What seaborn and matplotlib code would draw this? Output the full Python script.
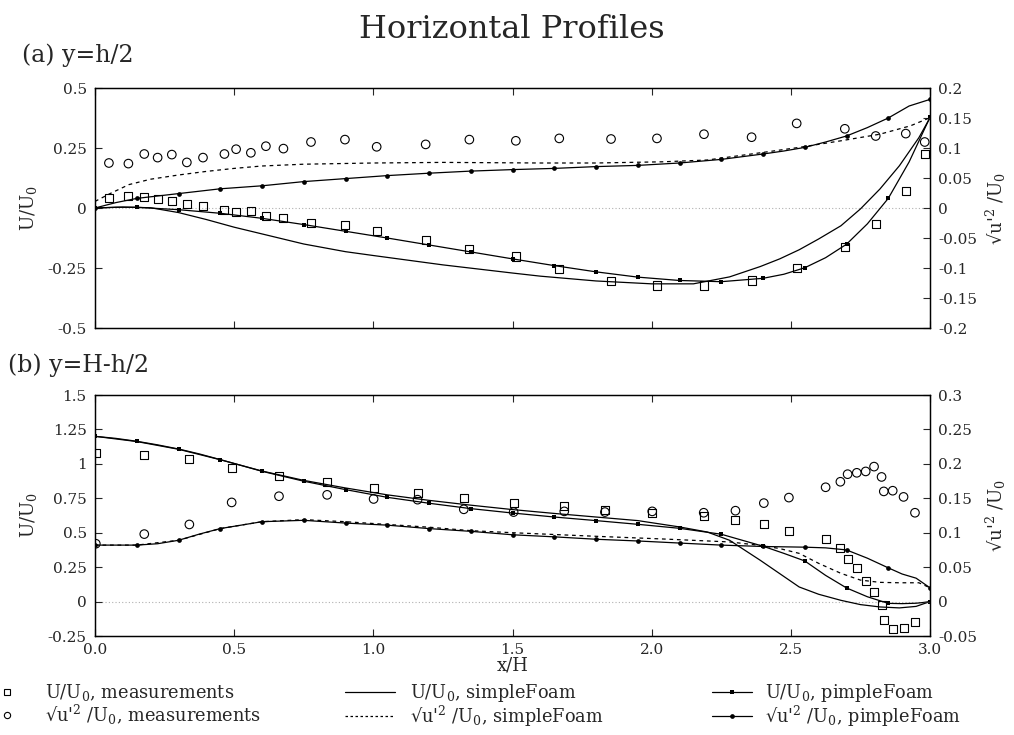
import numpy as np
import matplotlib
matplotlib.use("Agg")
import matplotlib.pyplot as plt
from matplotlib.lines import Line2D
from matplotlib.ticker import FixedLocator, FuncFormatter
import seaborn as sns

# ---------------- data ----------------
# (a) y = h/2 : measurements
x_meas_a = [0.05, 0.12, 0.177, 0.225, 0.276, 0.33, 0.388, 0.465, 0.507, 0.56,
            0.614, 0.677, 0.776, 0.898, 1.012, 1.188, 1.345, 1.512, 1.668, 1.854,
            2.019, 2.188, 2.359, 2.521, 2.694, 2.805, 2.913, 2.981]
u_meas_a = [0.042, 0.051, 0.046, 0.036, 0.030, 0.017, 0.007, -0.010, -0.018, -0.011,
            -0.032, -0.043, -0.061, -0.072, -0.094, -0.133, -0.170, -0.202, -0.253, -0.303,
            -0.323, -0.323, -0.302, -0.251, -0.164, -0.066, 0.069, 0.224]
urms_meas_a = [0.075, 0.074, 0.090, 0.084, 0.089, 0.076, 0.084, 0.090, 0.098, 0.092,
               0.103, 0.099, 0.110, 0.114, 0.102, 0.106, 0.114, 0.112, 0.116, 0.115,
               0.116, 0.123, 0.118, 0.141, 0.132, 0.120, 0.124, 0.110]

# (a) simpleFoam
x_simple_u_a = [0, 0.1, 0.2, 0.3, 0.4, 0.5, 0.6, 0.75, 0.9, 1.0, 1.25, 1.5, 1.6, 1.8,
                2.0, 2.15, 2.28, 2.39, 2.46, 2.53, 2.6, 2.68, 2.75, 2.82, 2.89, 2.96, 3.0]
u_simple_a = [0.000, 0.004, 0.001, -0.019, -0.048, -0.080, -0.108, -0.150, -0.182, -0.198,
              -0.237, -0.271, -0.284, -0.304, -0.316, -0.316, -0.287, -0.244, -0.212, -0.174,
              -0.129, -0.074, -0.004, 0.079, 0.176, 0.293, 0.376]
x_simple_urms_a = [0, 0.054, 0.122, 0.2, 0.3, 0.4, 0.5, 0.6, 0.75, 1.0, 1.25, 1.6, 1.8,
                   2.04, 2.2, 2.39, 2.53, 2.68, 2.82, 2.93, 3.0]
urms_simple_a = [0.011, 0.024, 0.039, 0.048, 0.055, 0.061, 0.066, 0.070, 0.073, 0.075,
                 0.076, 0.075, 0.075, 0.077, 0.080, 0.092, 0.101, 0.112, 0.123, 0.137, 0.1505]

# (a) pimpleFoam (symbols every 0.15)
x_pimple_a = [0, 0.075, 0.15, 0.3, 0.45, 0.6, 0.75, 0.9, 1.05, 1.2, 1.35, 1.5, 1.65, 1.8,
              1.95, 2.1, 2.25, 2.4, 2.475, 2.55, 2.625, 2.7, 2.775, 2.85, 2.925, 3.0]
u_pimple_a = [0.000, 0.003, 0.003, -0.007, -0.022, -0.043, -0.069, -0.097, -0.125, -0.154,
              -0.183, -0.212, -0.240, -0.266, -0.288, -0.302, -0.307, -0.293, -0.276, -0.249,
              -0.207, -0.151, -0.066, 0.040, 0.192, 0.378]
urms_pimple_a = [0.000, 0.009, 0.016, 0.024, 0.032, 0.037, 0.044, 0.049, 0.054, 0.058,
                 0.0615, 0.064, 0.066, 0.069, 0.071, 0.075, 0.081, 0.090, 0.095, 0.101,
                 0.110, 0.120, 0.134, 0.150, 0.170, 0.181]

# (b) y = H - h/2 : measurements
x_meas_b = [0.003, 0.177, 0.339, 0.491, 0.661, 0.834, 1.001, 1.159, 1.325, 1.504,
            1.686, 1.832, 2.002, 2.187, 2.301, 2.403, 2.493, 2.625, 2.678, 2.704,
            2.737, 2.769, 2.799, 2.826, 2.834, 2.866, 2.905, 2.946]
u_meas_b = [1.082, 1.065, 1.036, 0.973, 0.915, 0.866, 0.825, 0.789, 0.750, 0.716,
            0.692, 0.665, 0.643, 0.619, 0.593, 0.565, 0.510, 0.452, 0.390, 0.310,
            0.243, 0.148, 0.070, -0.026, -0.135, -0.202, -0.194, -0.150]
urms_meas_b = [0.084, 0.098, 0.112, 0.144, 0.153, 0.155, 0.149, 0.148, 0.134, 0.130,
               0.131, 0.130, 0.131, 0.129, 0.132, 0.143, 0.151, 0.166, 0.174, 0.185,
               0.187, 0.189, 0.196, 0.181, 0.160, 0.161, 0.152, 0.129]

# (b) simpleFoam
x_simple_u_b = [0, 0.15, 0.3, 0.45, 0.6, 0.75, 0.9, 1.05, 1.2, 1.35, 1.5, 1.65, 1.8, 1.95,
                2.1, 2.2, 2.28, 2.39, 2.46, 2.53, 2.6, 2.68, 2.75, 2.82, 2.89, 2.95, 3.0]
u_simple_b = [1.200, 1.162, 1.106, 1.030, 0.948, 0.880, 0.825, 0.775, 0.735, 0.700,
              0.668, 0.640, 0.614, 0.588, 0.542, 0.505, 0.445, 0.300, 0.203, 0.106,
              0.053, 0.009, -0.022, -0.039, -0.046, -0.035, 0.000]
x_simple_urms_b = [0, 0.15, 0.3, 0.45, 0.6, 0.75, 0.9, 1.05, 1.2, 1.35, 1.5, 1.8, 2.04,
                   2.28, 2.39, 2.46, 2.53, 2.6, 2.68, 2.75, 2.82, 2.89, 2.96, 3.0]
urms_simple_b = [0.082, 0.082, 0.089, 0.106, 0.116, 0.119, 0.116, 0.112, 0.108, 0.103,
                 0.100, 0.0948, 0.0909, 0.0866, 0.0816, 0.077, 0.070, 0.0555, 0.041,
                 0.0312, 0.0279, 0.0273, 0.0273, 0.020]

# (b) pimpleFoam (symbols every 0.15)
x_pimple_b = [0, 0.075, 0.15, 0.225, 0.3, 0.375, 0.45, 0.6, 0.75, 0.9, 1.05, 1.2, 1.35,
              1.5, 1.65, 1.8, 1.95, 2.1, 2.25, 2.4, 2.475, 2.55, 2.625, 2.7, 2.775, 2.85,
              2.9, 2.95, 2.975, 3.0]
u_pimple_b = [1.200, 1.185, 1.164, 1.138, 1.108, 1.072, 1.031, 0.946, 0.874, 0.813,
              0.757, 0.714, 0.675, 0.643, 0.614, 0.588, 0.561, 0.532, 0.489, 0.402,
              0.350, 0.295, 0.190, 0.099, 0.035, -0.013, -0.015, -0.012, -0.007, 0.000]
urms_pimple_b = [0.082, 0.082, 0.082, 0.084, 0.089, 0.098, 0.106, 0.116, 0.118, 0.114,
                 0.111, 0.106, 0.102, 0.097, 0.094, 0.0905, 0.088, 0.085, 0.082, 0.080,
                 0.0795, 0.079, 0.078, 0.075, 0.063, 0.049, 0.040, 0.034, 0.027, 0.020]

# axis settings
xticks = [0.0, 0.5, 1.0, 1.5, 2.0, 2.5, 3.0]
yticks_a = [-0.5, -0.25, 0, 0.25, 0.5]
yticks_a2 = [-0.2, -0.15, -0.1, -0.05, 0, 0.05, 0.1, 0.15, 0.2]
yticks_b = [-0.25, 0, 0.25, 0.5, 0.75, 1, 1.25, 1.5]
yticks_b2 = [-0.05, 0, 0.05, 0.1, 0.15, 0.2, 0.25, 0.3]

LBL_U = "U/U$_0$"
LBL_R = "\u221au'$^2$ /U$_0$"

# ---------------- style ----------------
sns.set_theme(style="ticks")
plt.rcParams["font.family"] = ["DejaVu Serif"]
plt.rcParams["mathtext.fontset"] = "dejavuserif"
plt.rcParams["axes.unicode_minus"] = False
plt.rcParams["axes.linewidth"] = 0.9

W, H = 1014, 735
fig = plt.figure(figsize=(W / 100, H / 100), dpi=100)

ax_a = fig.add_axes([95 / W, 1 - 328 / H, 835 / W, 240 / H])
ax_b = fig.add_axes([95 / W, 1 - 636 / H, 835 / W, 241 / H])

LW = 0.9
K = "black"


def marker_idx(xs, step=0.15):
    return [i for i, v in enumerate(xs) if abs(v / step - round(v / step)) < 1e-6]


def fmt_g(v, _pos=None):
    s = f"{v:g}"
    return "0" if s in ("-0", "0") else s


def style_axes(ax, ax2, yt, yt2, show_x):
    ax.set_xlim(0, 3)
    ax.xaxis.set_major_locator(FixedLocator(xticks))
    ax.yaxis.set_major_locator(FixedLocator(yt))
    ax.yaxis.set_major_formatter(FuncFormatter(fmt_g))
    ax2.yaxis.set_major_locator(FixedLocator(yt2))
    ax2.yaxis.set_major_formatter(FuncFormatter(fmt_g))
    ax.tick_params(axis="x", direction="in", top=True, bottom=True, length=5,
                   width=0.8, labelsize=11, pad=5, labelbottom=show_x)
    ax.tick_params(axis="y", direction="in", left=True, right=False, length=5,
                   width=0.8, labelsize=11, pad=6)
    ax2.tick_params(axis="y", direction="in", right=True, length=5, width=0.8,
                    labelsize=11, pad=6)
    if show_x:
        ax.set_xticklabels([f"{v:.1f}" for v in xticks])
    ax.axhline(0, color="#b0b0b0", lw=0.8, ls=(0, (1, 2)), zorder=0)
    ax.set_ylabel(LBL_U, fontsize=13, labelpad=6)
    ax2.set_ylabel(LBL_R, fontsize=13, labelpad=5)
    for a in (ax, ax2):
        for s in a.spines.values():
            s.set_visible(True)
            s.set_linewidth(0.9)
            s.set_color(K)
    ax.patch.set_visible(False)


def draw_panel(ax, x_meas, u_meas, urms_meas, xs_u, us, xs_r, rs, xp, up, rp,
               ylim, ylim2, yt, yt2, show_x):
    ax2 = ax.twinx()
    ax.set_ylim(*ylim)
    ax2.set_ylim(*ylim2)
    idx = marker_idx(xp)
    # velocity on the left axis
    sns.lineplot(x=xs_u, y=us, ax=ax, color=K, lw=LW, sort=False, estimator=None)
    sns.lineplot(x=xp, y=up, ax=ax, color=K, lw=LW, sort=False, estimator=None,
                 marker="s", markersize=3.4, markevery=idx, markeredgewidth=0)
    sns.scatterplot(x=x_meas, y=u_meas, ax=ax, marker="s", s=34, color="none",
                    edgecolor=K, linewidth=0.8, zorder=5)
    # fluctuation on the right axis
    sns.lineplot(x=xs_r, y=rs, ax=ax2, color=K, lw=LW, sort=False, estimator=None,
                 linestyle=(0, (3, 3)))
    sns.lineplot(x=xp, y=rp, ax=ax2, color=K, lw=LW, sort=False, estimator=None,
                 marker="o", markersize=3.4, markevery=idx, markeredgewidth=0)
    sns.scatterplot(x=x_meas, y=urms_meas, ax=ax2, marker="o", s=38, color="none",
                    edgecolor=K, linewidth=0.8, zorder=5)
    style_axes(ax, ax2, yt, yt2, show_x)
    ax.set_xlim(0, 3)
    ax2.set_xlim(0, 3)
    return ax2


draw_panel(ax_a, x_meas_a, u_meas_a, urms_meas_a, x_simple_u_a, u_simple_a,
           x_simple_urms_a, urms_simple_a, x_pimple_a, u_pimple_a, urms_pimple_a,
           (-0.5, 0.5), (-0.2, 0.2), yticks_a, yticks_a2, False)
draw_panel(ax_b, x_meas_b, u_meas_b, urms_meas_b, x_simple_u_b, u_simple_b,
           x_simple_urms_b, urms_simple_b, x_pimple_b, u_pimple_b, urms_pimple_b,
           (-0.25, 1.5), (-0.05, 0.3), yticks_b, yticks_b2, True)

ax_b.set_xlabel("x/H", fontsize=13, labelpad=0)

# titles
fig.text(512 / W, 1 - 30 / H, "Horizontal Profiles", ha="center", va="center", fontsize=23)
fig.text(22 / W, 1 - 55 / H, "(a) y=h/2", ha="left", va="center", fontsize=17)
fig.text(8 / W, 1 - 365 / H, "(b) y=H-h/2", ha="left", va="center", fontsize=17)

# legend, three columns
FS = 12.8
fs_px = FS * 100 / 72
common = dict(loc="upper left", frameon=False, fontsize=FS, borderpad=0,
              borderaxespad=0, labelspacing=-0.02, numpoints=1)

h_meas = [Line2D([], [], ls="none", marker="s", ms=4.5, mfc="none", mec=K, mew=0.8),
          Line2D([], [], ls="none", marker="o", ms=4.5, mfc="none", mec=K, mew=0.8)]
h_simple = [Line2D([], [], color=K, lw=LW),
            Line2D([], [], color=K, lw=LW, ls=(0, (2, 2)))]
h_pimple = [Line2D([], [], color=K, lw=LW, marker="s", ms=3.4, mew=0),
            Line2D([], [], color=K, lw=LW, marker="o", ms=3.4, mew=0)]

y_leg = 1 - 682 / H
leg1 = fig.legend(h_meas, [f"{LBL_U}, measurements", f"{LBL_R}, measurements"],
                  bbox_to_anchor=(0 / W, y_leg), handlelength=14 / fs_px,
                  handletextpad=31 / fs_px, **common)
leg2 = fig.legend(h_simple, [f"{LBL_U}, simpleFoam", f"{LBL_R}, simpleFoam"],
                  bbox_to_anchor=(345 / W, y_leg), handlelength=50 / fs_px,
                  handletextpad=15 / fs_px, **common)
leg3 = fig.legend(h_pimple, [f"{LBL_U}, pimpleFoam", f"{LBL_R}, pimpleFoam"],
                  bbox_to_anchor=(712 / W, y_leg), handlelength=40 / fs_px,
                  handletextpad=13 / fs_px, **common)

fig.savefig("out.png", dpi=100)
